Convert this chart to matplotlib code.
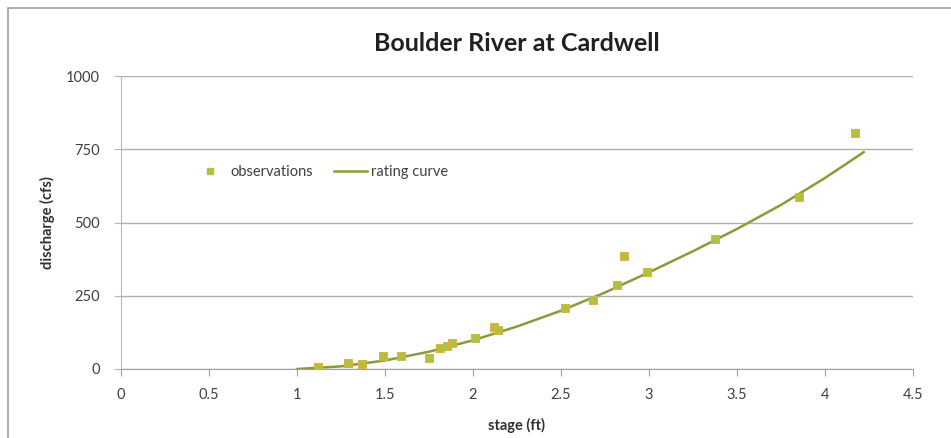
import matplotlib
matplotlib.use("Agg")
import matplotlib.pyplot as plt
from matplotlib.lines import Line2D
from matplotlib.patches import Rectangle

obs_stage = [1.12, 1.29, 1.37, 1.49, 1.59, 1.75, 1.81, 1.85, 1.88, 2.01, 2.12, 2.14,
             2.52, 2.68, 2.82, 2.86, 2.99, 3.375, 3.85, 4.17]
obs_q = [7, 20, 17, 44, 44, 38, 72, 78, 89, 106, 143, 133,
         208, 235, 287, 386, 331, 442, 588, 807]

curve_stage = [1.0, 1.25, 1.5, 1.75, 2.0, 2.25, 2.5, 2.75, 3.0, 3.25, 3.5, 3.75, 4.0, 4.22]
curve_q = [0, 9, 29, 59, 98, 145, 199, 261, 330, 402, 478, 560, 652, 740]

xticks = [0, 0.5, 1, 1.5, 2, 2.5, 3, 3.5, 4, 4.5]
xticklabels = ["0", "0.5", "1", "1.5", "2", "2.5", "3", "3.5", "4", "4.5"]
yticks = [0, 250, 500, 750, 1000]

plt.rcParams['font.family'] = ['Lato', 'DejaVu Sans']

fig = plt.figure(figsize=(9.51, 4.38), dpi=100)
fig.patches.append(Rectangle((8/951, -0.1), 1.2, 1 - 8/438 + 0.1, transform=fig.transFigure,
                             fill=False, edgecolor='#a0a0a0', linewidth=1.2))
ax = fig.add_axes([121/951, 1 - 369/438, (913-121)/951, (369-76)/438])

ax.plot(curve_stage, curve_q, color='#8c9a3c', linewidth=1.8, zorder=2)
ax.scatter(obs_stage, obs_q, s=26, marker='s', color='#b0c040', edgecolors='#e0b040',
           linewidths=0.7, zorder=3)

ax.set_xlim(0, 4.5)
ax.set_ylim(0, 1000)
ax.set_xticks(xticks)
ax.set_xticklabels(xticklabels)
ax.set_yticks(yticks)
ax.grid(axis='y', color='#b0b0b0', linewidth=1)
ax.set_axisbelow(True)
for s in ['top', 'right']:
    ax.spines[s].set_visible(False)
ax.spines['bottom'].set_color('#a0a0a0')
ax.spines['left'].set_color('#b8b8b8')
ax.tick_params(axis='x', length=5, color='#a0a0a0', labelsize=10.5, labelcolor='#404040', pad=9)
ax.tick_params(axis='y', length=5, color='#b8b8b8', labelsize=10.5, labelcolor='#404040', pad=10)

ax.set_title("Boulder River at Cardwell", fontsize=18, fontweight='bold', color='#202020', pad=18)
ax.set_xlabel("stage (ft)", fontsize=10.5, fontweight='bold', color='#303030', labelpad=11)
ax.set_ylabel("discharge (cfs)", fontsize=10.5, fontweight='bold', color='#303030', labelpad=8)

handles = [Line2D([], [], marker='s', linestyle='none', color='#b0c040', markersize=4.5),
           Line2D([], [], color='#8c9a3c', linewidth=1.8)]
ax.legend(handles, ["observations", "rating curve"], loc='center left',
          bbox_to_anchor=(0.075, 0.672), ncol=2, frameon=False, fontsize=10.5,
          handlelength=2.2, columnspacing=1.5, handletextpad=0.3, labelcolor='#404040')

fig.savefig("out.png", dpi=100)
